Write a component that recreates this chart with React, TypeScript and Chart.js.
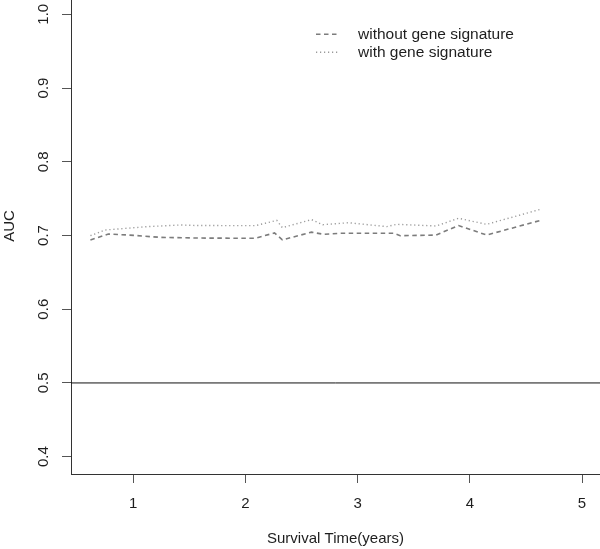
import { useEffect, useRef } from "react";
import { Chart, registerables } from "chart.js";

Chart.register(...registerables);

// ---- data ----
const seriesLabels = ["without gene signature", "with gene signature"];

const withoutTimes = [0.62, 0.78, 0.97, 1.24, 1.57, 2.09, 2.26, 2.33, 2.59, 2.70, 2.84, 3.32, 3.38, 3.70, 3.90, 4.15, 4.63];
const withoutAUC = [0.694, 0.702, 0.7005, 0.6975, 0.6965, 0.6962, 0.7035, 0.694, 0.7045, 0.7015, 0.703, 0.703, 0.6997, 0.7006, 0.7135, 0.7006, 0.7205];

const withTimes = [0.62, 0.75, 1.12, 1.42, 1.57, 2.09, 2.28, 2.33, 2.59, 2.69, 2.92, 3.26, 3.35, 3.70, 3.90, 4.15, 4.63];
const withAUC = [0.6997, 0.7074, 0.7119, 0.7142, 0.7135, 0.7133, 0.7205, 0.7106, 0.7215, 0.7146, 0.7173, 0.712, 0.7151, 0.7129, 0.7233, 0.7151, 0.7355];

const referenceAUC = 0.5;

const xTickValues = [1, 2, 3, 4, 5];
const yTickValues = [0.4, 0.5, 0.6, 0.7, 0.8, 0.9, 1.0];

const xTitle = "Survival Time(years)";
const yTitle = "AUC";

// axis ranges (R-style expanded limits)
const X_MIN = 0.447;
const X_MAX = 5.16;
const Y_MIN = 0.3765;
const Y_MAX = 1.0492;

const FONT = "'Liberation Sans', Arial, Helvetica, sans-serif";
const TEXT = "#1e1e1e";

const legendPlugin = {
  id: "rLegend",
  afterDraw(chart: any) {
    const ctx = chart.ctx;
    const ds = chart.data.datasets.filter((d: any) => d.inLegend);
    ctx.save();
    ds.forEach((d: any, i: number) => {
      const base = 61.3 + i * 18;
      const ly = base - 5;
      ctx.beginPath();
      ctx.strokeStyle = d.borderColor;
      ctx.lineWidth = d.borderWidth;
      ctx.setLineDash(d.borderDash || []);
      ctx.moveTo(316, ly);
      ctx.lineTo(340, ly);
      ctx.stroke();
      ctx.setLineDash([]);
      ctx.fillStyle = TEXT;
      ctx.font = `15.5px ${FONT}`;
      ctx.textAlign = "left";
      ctx.textBaseline = "alphabetic";
      ctx.fillText(d.label, 358, base);
    });
    ctx.restore();
  },
};

export default function App() {
  const ref = useRef<HTMLCanvasElement | null>(null);

  useEffect(() => {
    if (!ref.current) return;
    const toPts = (xs: number[], ys: number[]) => xs.map((x, i) => ({ x, y: ys[i] }));
    const chart = new Chart(ref.current, {
      type: "line",
      data: {
        datasets: [
          {
            label: seriesLabels[0],
            data: toPts(withoutTimes, withoutAUC),
            borderColor: "#7c7c7c",
            borderWidth: 1.6,
            borderDash: [4.5, 3.5],
            pointRadius: 0,
            tension: 0,
            fill: false,
            inLegend: true,
          } as any,
          {
            label: seriesLabels[1],
            data: toPts(withTimes, withAUC),
            borderColor: "#9a9a9a",
            borderWidth: 1.4,
            borderDash: [1.2, 2.8],
            pointRadius: 0,
            tension: 0,
            fill: false,
            inLegend: true,
          } as any,
          {
            label: "reference",
            data: [
              { x: X_MIN, y: referenceAUC },
              { x: X_MAX, y: referenceAUC },
            ],
            borderColor: "#111111",
            borderWidth: 1,
            pointRadius: 0,
            fill: false,
          } as any,
        ],
      },
      options: {
        animation: false,
        responsive: false,
        maintainAspectRatio: false,
        layout: { padding: 0 },
        plugins: {
          legend: { display: false },
          tooltip: { enabled: false },
        },
        scales: {
          x: {
            type: "linear",
            min: X_MIN,
            max: X_MAX,
            afterBuildTicks: (s: any) => {
              s.ticks = xTickValues.map((v) => ({ value: v }));
            },
            afterFit: (s: any) => {
              s.height = 75;
              s.paddingLeft = 0;
              s.paddingRight = 0;
            },
            grid: { drawOnChartArea: false, drawTicks: true, tickLength: 9, color: "#555" },
            border: { display: true, color: "#333", width: 1 },
            ticks: {
              autoSkip: false,
              maxRotation: 0,
              padding: 12,
              color: TEXT,
              font: { family: FONT, size: 15 },
              callback: (v: any) => String(v),
            },
            title: {
              display: true,
              text: xTitle,
              color: TEXT,
              font: { family: FONT, size: 15 },
              padding: { top: 0, bottom: 1 },
            },
          },
          y: {
            type: "linear",
            min: Y_MIN,
            max: Y_MAX,
            afterBuildTicks: (s: any) => {
              s.ticks = yTickValues.map((v) => ({ value: v }));
            },
            afterFit: (s: any) => {
              s.width = 71;
              s.paddingTop = 0;
              s.paddingBottom = 0;
            },
            grid: { drawOnChartArea: false, drawTicks: true, tickLength: 9, color: "#555" },
            border: { display: true, color: "#333", width: 1 },
            ticks: {
              autoSkip: false,
              minRotation: 90,
              maxRotation: 90,
              crossAlign: "center",
              padding: 8,
              color: TEXT,
              font: { family: FONT, size: 15 },
              callback: (v: any) => Number(v).toFixed(1),
            },
            title: {
              display: true,
              text: yTitle,
              color: TEXT,
              font: { family: FONT, size: 15 },
              padding: { top: 1, bottom: 0 },
            },
          },
        },
      } as any,
      plugins: [legendPlugin],
    });
    return () => chart.destroy();
  }, []);

  return (
    <div
      style={{
        position: "fixed",
        left: 0,
        top: 0,
        width: 600,
        height: 549,
        overflow: "hidden",
        background: "#ffffff",
      }}
    >
      <canvas
        ref={ref}
        width={600}
        height={571}
        style={{ position: "absolute", left: 0, top: -22, width: 600, height: 571 }}
      />
    </div>
  );
}
